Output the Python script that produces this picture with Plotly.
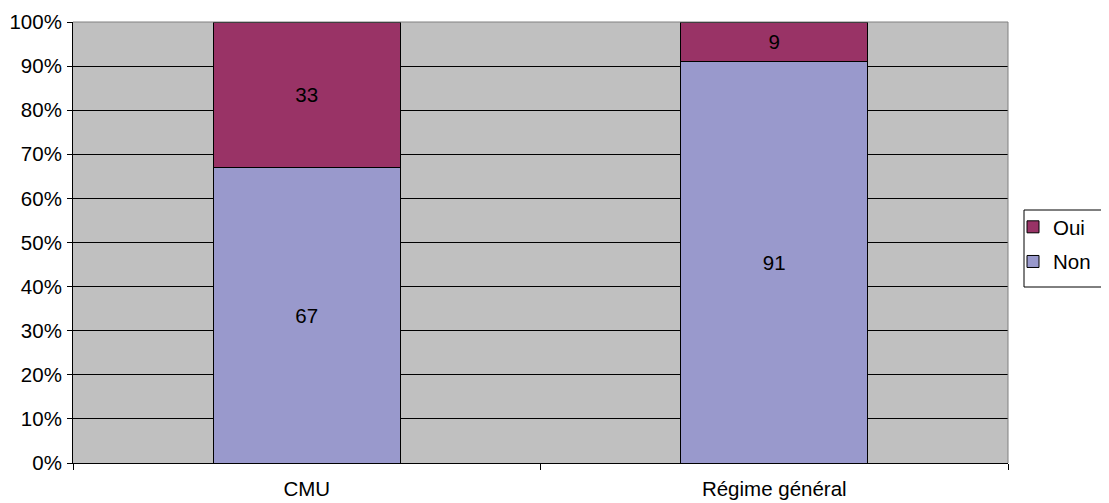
import plotly.graph_objects as go

categories = ["CMU", "Régime général"]
non_values = [67, 91]
oui_values = [33, 9]
y_ticks = [0, 10, 20, 30, 40, 50, 60, 70, 80, 90, 100]
y_tick_labels = [f"{v}%" for v in y_ticks]

FONT = "Liberation Sans, Arial, sans-serif"
FS = 20.5

fig = go.Figure()
fig.add_trace(go.Bar(
    x=categories, y=non_values, name="Non", legendgroup="non", legendrank=2,
    marker=dict(color="#9999CC", line=dict(color="black", width=1)),
    text=[str(v) for v in non_values], textposition="inside",
    insidetextanchor="middle", textfont=dict(color="black", size=FS, family=FONT),
    width=0.4,
))
fig.add_trace(go.Bar(
    x=categories, y=oui_values, name="Oui", legendgroup="oui", legendrank=1,
    marker=dict(color="#993366", line=dict(color="black", width=1)),
    text=[str(v) for v in oui_values], textposition="inside",
    insidetextanchor="middle", textfont=dict(color="black", size=FS, family=FONT),
    width=0.4,
))

# page body has an 8px margin; figure is laid out so the plot area
# lands at x 73..1008, y 22..463 on screen
OFF = 8
W, H = 1109 - OFF, 503 - OFF
L, T = 73 - OFF, 22 - OFF
R, B = 1109 - 1008, 503 - 463
pw = W - L - R
ph = H - T - B


def px(sx):
    return (sx - 73) / pw


def py(sy):
    return (463 - sy) / ph


fig.update_layout(
    width=W, height=H,
    margin=dict(l=L, r=R, t=T, b=B, pad=0, autoexpand=False),
    barmode="stack",
    paper_bgcolor="white",
    plot_bgcolor="#C0C0C0",
    font=dict(family=FONT, size=FS, color="black"),
    showlegend=True,
    legend=dict(
        x=px(1013), y=py(207),
        xanchor="left", yanchor="top",
        traceorder="grouped",
        borderwidth=0,
        bgcolor="rgba(0,0,0,0)",
        font=dict(size=FS, family=FONT),
        itemwidth=30,
        tracegroupgap=5,
    ),
    xaxis=dict(
        type="category",
        automargin=False,
        showgrid=False,
        showline=True, linecolor="black", linewidth=1,
        ticks="outside", tickson="boundaries", ticklen=6, tickcolor="black",
        tickfont=dict(size=FS, family=FONT),
        ticklabelstandoff=7,
        range=[-0.5, 1.5],
    ),
    yaxis=dict(
        automargin=False,
        range=[0, 100],
        tickvals=y_ticks, ticktext=y_tick_labels,
        showgrid=True, gridcolor="black", gridwidth=1,
        showline=True, linecolor="black", linewidth=1,
        ticks="outside", ticklen=5, tickcolor="black",
        tickfont=dict(size=FS, family=FONT),
        ticklabelstandoff=1,
        zeroline=False,
    ),
)

# grey plot-area border at top and right
fig.add_shape(type="line", xref="paper", yref="paper", x0=0, x1=1, y0=1, y1=1,
              line=dict(color="#808080", width=1))
fig.add_shape(type="line", xref="paper", yref="paper", x0=1, x1=1, y0=0, y1=1,
              line=dict(color="#808080", width=1))
# legend frame
fig.add_shape(type="rect", xref="paper", yref="paper",
              x0=px(1024), x1=px(1108), y0=py(287), y1=py(210),
              line=dict(color="black", width=1), fillcolor="rgba(0,0,0,0)")

fig.write_html("out.html")
